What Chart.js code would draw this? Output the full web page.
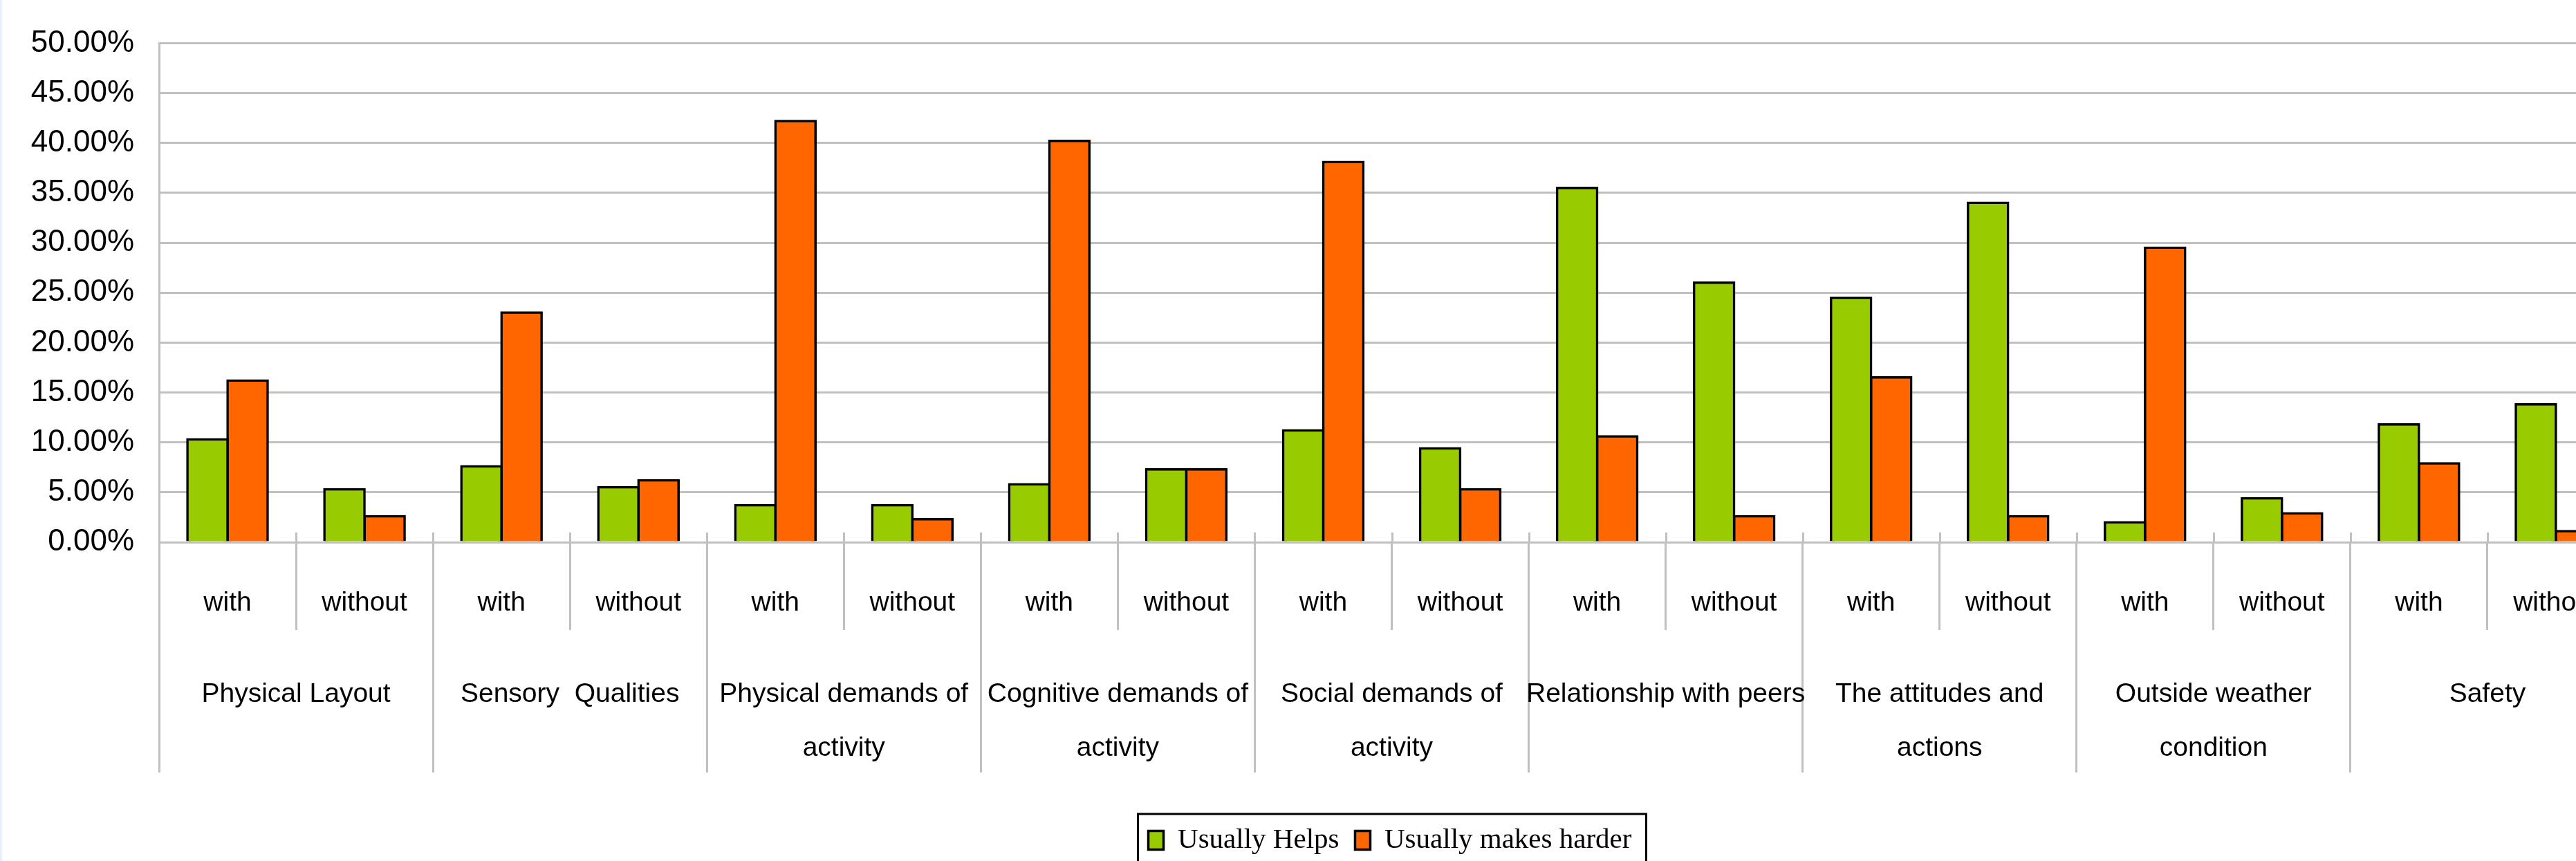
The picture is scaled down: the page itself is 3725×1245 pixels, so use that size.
<!DOCTYPE html>
<html>
<head>
<meta charset="utf-8">
<script src="https://cdn.jsdelivr.net/npm/chart.js@4.4.1/dist/chart.umd.min.js"></script>
<style>
  html, body { margin: 0; padding: 0; overflow: hidden; background: #ffffff; width: 3725px; height: 1245px; }
  #wrap { position: absolute; left: 0; top: 0; width: 4020px; height: 1260px; }
  #edge { position: absolute; left: 0; top: 0; width: 3px; height: 1245px; background: #e8f1fa; z-index: 2; }
</style>
</head>
<body>
<div id="edge"></div>
<div id="wrap"><canvas id="c" width="4020" height="1260"></canvas></div>
<script>
// ---- data ----
const groupLabels = [
  ['Physical Layout'],
  ['Sensory  Qualities'],
  ['Physical demands of', 'activity'],
  ['Cognitive demands of', 'activity'],
  ['Social demands of', 'activity'],
  ['Relationship with peers'],
  ['The attitudes and', 'actions'],
  ['Outside weather', 'condition'],
  ['Safety']
];
const subLabels = ['with', 'without', 'with', 'without', 'with', 'without', 'with', 'without', 'with',
                   'without', 'with', 'without', 'with', 'without', 'with', 'without', 'with', 'without'];
const seriesNames = ['Usually Helps', 'Usually makes harder'];
const helps  = [10.3, 5.3, 7.6, 5.5, 3.7, 3.7, 5.8, 7.3, 11.2, 9.4, 35.5, 26.0, 24.5, 34.0, 2.0, 4.4, 11.8, 13.8];
const harder = [16.2, 2.6, 23.0, 6.2, 42.2, 2.3, 40.2, 7.3, 38.1, 5.3, 10.6, 2.6, 16.5, 2.6, 29.5, 2.9, 7.9, 1.1];
const yMin = 0, yMax = 50, yStep = 5;

// ---- fonts ----
function hasFont(name) {
  const c = document.createElement('canvas').getContext('2d');
  const s = 'Physical Layout wmWM 0123';
  c.font = '40px monospace';
  const a = c.measureText(s).width;
  c.font = '40px "' + name + '", monospace';
  return Math.abs(c.measureText(s).width - a) > 0.5;
}
const narrowOK = hasFont('Liberation Sans Narrow');
const catFamily = narrowOK ? '"Liberation Sans Narrow", "Liberation Sans", Arial, sans-serif' : '"Liberation Sans", Arial, sans-serif';
const catSize = narrowOK ? 49 : 39;
const lh1 = catSize * 1.2;
const pad1 = 872 - lh1 / 2 - 911;
const lh2 = 78;
const pad2 = (1018 - 0.3465 * catSize) - lh2 / 2 - 1117;

const GRID = '#c0c0c0';

// ---- plugins ----
const overTicks = {
  id: 'overTicks',
  afterDraw(chart) {
    const x = chart.scales.x, area = chart.chartArea, ctx = chart.ctx;
    const half = (x.getPixelForValue(1) - x.getPixelForValue(0)) / 2;
    ctx.save();
    ctx.strokeStyle = GRID;
    ctx.lineWidth = 3;
    for (let i = 0; i <= subLabels.length; i++) {
      const px = Math.round(x.getPixelForValue(i) - half) + 0.5;
      ctx.beginPath();
      ctx.moveTo(px, area.bottom - 14);
      ctx.lineTo(px, area.bottom);
      ctx.stroke();
    }
    ctx.restore();
  }
};
const legendFrame = {
  id: 'legendFrame',
  afterDraw(chart) {
    const hb = chart.legend && chart.legend.legendHitBoxes;
    if (!hb || !hb.length) return;
    const ctx = chart.ctx;
    const last = hb[hb.length - 1];
    const l = hb[0].left - 15;
    const r = last.left + last.width + 21;
    const t = hb[0].top + hb[0].height / 2 - 38;
    ctx.save();
    ctx.strokeStyle = '#000';
    ctx.lineWidth = 3;
    ctx.strokeRect(l, t, r - l, 80);
    ctx.restore();
  }
};

new Chart(document.getElementById('c').getContext('2d'), {
  type: 'bar',
  data: {
    labels: subLabels,
    datasets: [
      { label: seriesNames[0], data: helps, backgroundColor: '#99CC00', borderColor: '#000000',
        borderWidth: 3.5, inflateAmount: 1.75, xAxisID: 'x', yAxisID: 'y' },
      { label: seriesNames[1], data: harder, backgroundColor: '#FF6600', borderColor: '#000000',
        borderWidth: 3.5, inflateAmount: 1.75, xAxisID: 'x', yAxisID: 'y' }
    ]
  },
  options: {
    responsive: false,
    animation: false,
    devicePixelRatio: 1,
    layout: { padding: { left: 0, right: 0, top: 62, bottom: 14.5 } },
    datasets: { bar: { categoryPercentage: 0.586, barPercentage: 1.0 } },
    plugins: {
      legend: {
        position: 'bottom',
        labels: {
          font: { family: '"Liberation Serif", "Times New Roman", serif', size: 41 },
          color: '#000000',
          boxWidth: 22,
          boxHeight: 27,
          padding: 23
        }
      },
      tooltip: { enabled: false },
      title: { display: false }
    },
    scales: {
      y: {
        type: 'linear',
        position: 'left',
        min: yMin, max: yMax,
        ticks: {
          stepSize: yStep,
          callback: v => Number(v).toFixed(2) + '%',
          font: { family: '"Liberation Sans", Arial, sans-serif', size: 44 },
          color: '#000000',
          padding: 36
        },
        grid: { color: GRID, lineWidth: 3, drawTicks: false },
        border: { display: true, color: GRID, width: 3 },
        afterFit: s => { s.width = 230; }
      },
      yR: {
        type: 'linear',
        position: 'right',
        display: true,
        grid: { display: false, drawTicks: false },
        border: { display: false },
        ticks: { display: false },
        afterFit: s => { s.width = 225; }
      },
      x: {
        type: 'category',
        position: 'bottom',
        weight: 0,
        offset: true,
        grid: { offset: true, drawOnChartArea: false, tickLength: 127, color: GRID, lineWidth: 3 },
        border: { display: true, color: GRID, width: 3 },
        ticks: {
          font: { family: catFamily, size: catSize, lineHeight: lh1 + 'px' },
          color: '#000000', padding: pad1, autoSkip: false, maxRotation: 0, minRotation: 0
        },
        afterFit: s => { s.height = 117; }
      },
      x2: {
        type: 'category',
        labels: groupLabels,
        position: 'bottom',
        weight: 1,
        offset: true,
        grid: { offset: true, drawOnChartArea: false, tickLength: 216, color: GRID, lineWidth: 3 },
        border: { display: false },
        ticks: {
          font: { family: catFamily, size: catSize, lineHeight: lh2 + 'px' },
          color: '#000000', padding: pad2, autoSkip: false, maxRotation: 0, minRotation: 0
        },
        afterFit: s => { s.height = 270.5; }
      }
    }
  },
  plugins: [overTicks, legendFrame]
});
</script>
</body>
</html>
